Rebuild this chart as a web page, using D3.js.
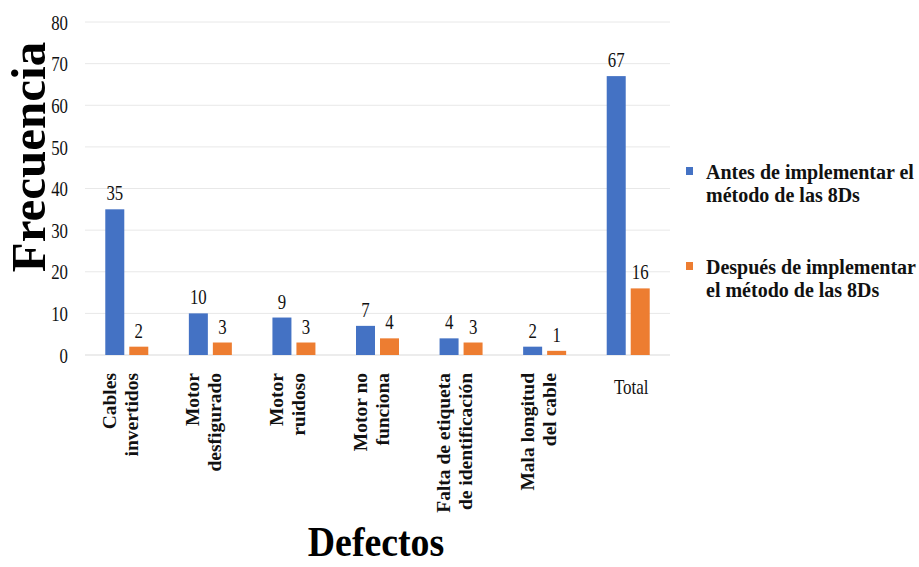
<!DOCTYPE html>
<html><head><meta charset="utf-8">
<script src="https://cdn.jsdelivr.net/npm/d3@7"></script>
<style>body{margin:0;background:#fff}</style>
</head><body>
<svg id="c" width="919" height="567"></svg>
<script>
const categories = [["Cables","invertidos"],["Motor","desfigurado"],["Motor","ruidoso"],["Motor no","funciona"],["Falta de etiqueta","de identificación"],["Mala longitud","del cable"],["Total"]];
const antes = [35,10,9,7,4,2,67];
const despues = [2,3,3,4,3,1,16];
const seriesNames = [["Antes de implementar el","método de las 8Ds"],["Después de implementar","el método de las 8Ds"]];
const yTicks = [0,10,20,30,40,50,60,70,80];
const colors = ["#4472C4","#ED7D31"];

const svg = d3.select("#c");
const font = "'Liberation Serif', 'Times New Roman', serif";
const x0 = 85, x1 = 670, yTop = 22, yBot = 355;
const x = d3.scaleBand().domain(d3.range(categories.length)).range([x0,x1]);
const y = d3.scaleLinear().domain([0,80]).range([yBot,yTop]);
const barW = 19, gap = 5;

// grid
svg.append("g").selectAll("line").data(yTicks).join("line")
  .attr("x1",x0).attr("x2",x1).attr("y1",d=>y(d)).attr("y2",d=>y(d))
  .attr("stroke",d=>d===0?"#d9d9d9":"#e8e8e8").attr("stroke-width",1);

// y axis labels
const yAxis = d3.axisLeft(y).tickValues(yTicks).tickSize(0).tickPadding(0);
const ya = svg.append("g").attr("transform","translate(68,0)").call(yAxis);
ya.select(".domain").remove();
ya.selectAll("text").attr("font-family",font).attr("font-size",21).attr("fill","#111")
  .attr("transform","scale(0.8,1)").attr("x",0).attr("dy","0.34em");

const series = [antes, despues];
series.forEach((vals,si)=>{
  const g = svg.append("g");
  g.selectAll("rect").data(vals).join("rect")
    .attr("x",(d,i)=>x(i)+x.bandwidth()/2 - barW - gap/2 + si*(barW+gap))
    .attr("width",barW)
    .attr("y",d=>y(d)).attr("height",d=>y(0)-y(d))
    .attr("fill",colors[si]);
  g.selectAll("text").data(vals).join("text")
    .attr("transform",(d,i)=>`translate(${x(i)+x.bandwidth()/2 - barW/2 - gap/2 + si*(barW+gap)},${y(d)-9}) scale(0.8,1)`)
    .attr("text-anchor","middle").attr("font-family",font).attr("font-size",21).attr("fill","#111")
    .text(d=>d);
});

// x labels
categories.forEach((lines,i)=>{
  const cx = x(i)+x.bandwidth()/2;
  if (lines.length===1){
    svg.append("text").attr("transform",`translate(${cx+3},394) scale(0.85,1)`).attr("text-anchor","middle")
      .attr("font-family",font).attr("font-size",20).attr("fill","#111").text(lines[0]);
  } else {
    lines.forEach((t,j)=>{
      const lx = cx - 11 + j*22;
      svg.append("text").attr("transform",`translate(${lx},373) rotate(-90)`)
        .attr("text-anchor","end").attr("font-family",font).attr("font-weight","bold")
        .attr("font-size",19.5).attr("fill","#111").text(t);
    });
  }
});

// axis titles
svg.append("text").attr("transform","translate(45,157) rotate(-90)").attr("text-anchor","middle")
  .attr("font-family",font).attr("font-weight","bold").attr("font-size",49).attr("fill","#000").text("Frecuencia");
svg.append("text").attr("transform","translate(376,556) scale(0.9,1)").attr("text-anchor","middle")
  .attr("font-family",font).attr("font-weight","bold").attr("font-size",42).attr("fill","#000").text("Defectos");

// legend
const legY = [179, 274];
seriesNames.forEach((lines,si)=>{
  svg.append("rect").attr("x",686).attr("y",legY[si]-12).attr("width",7).attr("height",8).attr("fill",colors[si]);
  lines.forEach((t,j)=>{
    svg.append("text").attr("x",706).attr("y",legY[si]+j*23).attr("font-family",font)
      .attr("font-weight","bold").attr("font-size",20).attr("fill","#111").text(t);
  });
});
</script>
</body></html>
